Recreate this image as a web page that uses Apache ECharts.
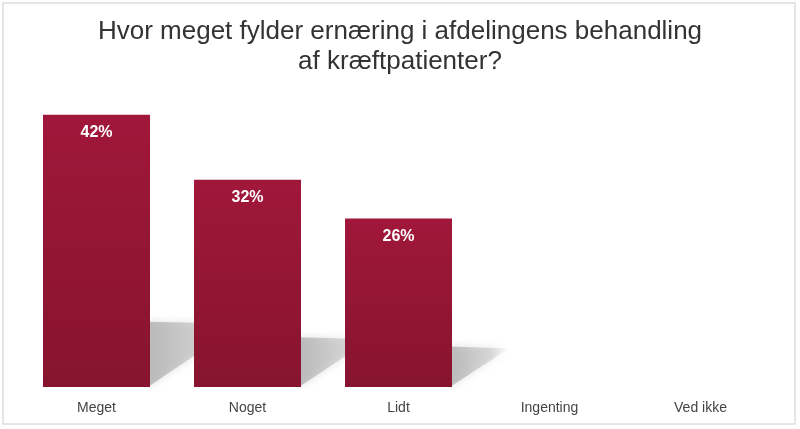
<!DOCTYPE html>
<html lang="da">
<head>
    <meta charset="UTF-8">
    <title>Ernæring</title>
    <style>
        html, body { margin: 0; padding: 0; background: #fff; }
        #chart { width: 800px; height: 429px; }
    </style>
</head>
<body>
    <div id="chart"></div>
    <script src="https://cdn.jsdelivr.net/npm/echarts@6/dist/echarts.min.js"></script>
    <script>
        // data
        const categories = ['Meget', 'Noget', 'Lidt', 'Ingenting', 'Ved ikke'];
        const percents = [42, 32, 26, 0, 0];

        const chart = echarts.init(document.getElementById('chart'));

        // skygge bag søjlerne
        function renderShadow(params, api) {
            const v = api.value(1);
            if (!v) return;
            const top = api.coord([api.value(0), v]);
            const base = api.coord([api.value(0), 0]);
            const half = 107 / 2;
            const right = base[0] + half;
            const h = (base[1] - top[1]) * 0.24;
            const len = h * 1.4;
            return {
                type: 'polygon',
                shape: {
                    points: [
                        [right - 2, base[1]],
                        [right - 2, base[1] - h],
                        [right + len, base[1] - h + 2]
                    ]
                },
                style: {
                    fill: new echarts.graphic.LinearGradient(0, 0, 1, 0, [
                        { offset: 0, color: 'rgba(175,175,175,0.8)' },
                        { offset: 0.7, color: 'rgba(195,195,195,0.55)' },
                        { offset: 1, color: 'rgba(215,215,215,0.1)' }
                    ]),
                    shadowBlur: 8,
                    shadowColor: 'rgba(185,185,185,0.6)'
                }
            };
        }

        const option = {
            backgroundColor: '#fff',
            title: {
                text: 'Hvor meget fylder ernæring i afdelingens behandling\naf kræftpatienter?',
                left: 'center',
                top: 12,
                textStyle: {
                    fontFamily: 'Liberation Sans',
                    fontSize: 26,
                    fontWeight: 'normal',
                    color: '#333',
                    lineHeight: 30
                }
            },
            graphic: [{
                type: 'rect',
                shape: { x: 3, y: 3, width: 792, height: 421 },
                style: { fill: 'none', stroke: '#dedede', lineWidth: 1.5 },
                z: -10
            }],
            grid: { left: 21, right: 24, top: 63, bottom: 42 },
            xAxis: {
                type: 'category',
                data: categories,
                axisLine: { show: false },
                axisTick: { show: false },
                axisLabel: {
                    margin: 14,
                    fontFamily: 'Liberation Sans',
                    fontSize: 14,
                    color: '#444'
                }
            },
            yAxis: {
                type: 'value',
                min: 0,
                max: 50,
                show: false,
                splitLine: { show: false }
            },
            series: [{
                type: 'custom',
                renderItem: renderShadow,
                data: percents.map((v, i) => [i, v]),
                z: 1,
                silent: true
            }, {
                type: 'bar',
                data: percents,
                barWidth: 107,
                z: 2,
                itemStyle: {
                    color: new echarts.graphic.LinearGradient(0, 0, 0, 1, [
                        { offset: 0, color: '#a0173a' },
                        { offset: 1, color: '#87142e' }
                    ])
                },
                label: {
                    show: true,
                    position: 'insideTop',
                    distance: 10,
                    fontFamily: 'Liberation Sans',
                    fontSize: 16,
                    fontWeight: 'bold',
                    color: '#fff',
                    formatter: p => p.value ? p.value + '%' : ''
                }
            }]
        };

        chart.setOption(option);
    </script>
</body>
</html>
